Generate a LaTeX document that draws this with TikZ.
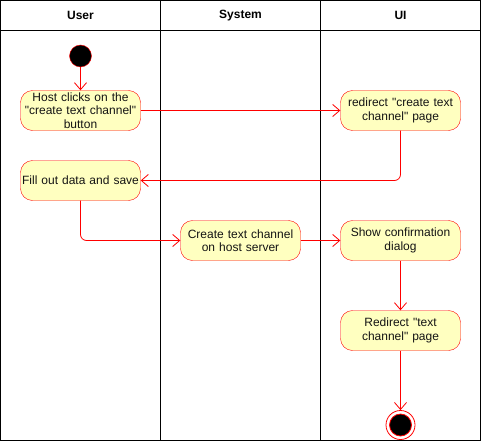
\documentclass[tikz,border=0pt]{standalone}
\usepackage{fontspec}
\setmainfont{Liberation Sans}[Ligatures=TeXOff]
\usetikzlibrary{arrows.meta}
\begin{document}
\begin{tikzpicture}[x=1pt,y=-1pt,
  lane/.style={draw=black,line width=1pt},
  act/.style={draw=red,fill={rgb,255:red,255;green,255;blue,192},rounded corners=12pt,
    minimum width=120pt,minimum height=40pt,inner sep=1pt,align=center,
    text width=118pt,font=\fontsize{12}{13.4}\selectfont,text={rgb,255:red,20;green,20;blue,20}},
  head/.style={font=\fontsize{12}{13.4}\selectfont\bfseries},
  flow/.style={draw=red,line width=0.8pt,rounded corners=6pt,
    -{Straight Barb[length=7pt,width=12pt,line width=0.8pt]}}]
\useasboundingbox (0,0) rectangle (481,441);
% swimlanes
\draw[lane] (0.5,0.5) rectangle (480.5,440.5);
\draw[lane] (0.5,31) -- (480.5,31);
\draw[lane] (160.5,0.5) -- (160.5,440.5);
\draw[lane] (320.5,0.5) -- (320.5,440.5);
\node[head] (hUser) at (80.5,15.5) {User};
\node[head] (hSys) at (240.5,15.5) {System};
\node[head] (hUI) at (400.5,15.5) {UI};
% start state
\node[circle,draw=red,fill=black,minimum size=22pt,inner sep=0pt] (start) at (80.5,56) {};
% activities
\node[act] (host) at (80.5,110.5) {Host clicks on the\\"create text channel"\\button};
\node[act] (fill) at (80.5,180.5) {Fill out data and save};
\node[act] (redir) at (400.5,110.5) {redirect "create text\\channel" page};
\node[act] (create) at (240.5,240.5) {Create text channel\\on host server};
\node[act] (show) at (400.5,240.5) {Show confirmation\\dialog};
\node[act] (redir2) at (400.5,330.5) {Redirect "text\\channel" page};
% end state
\node[circle,draw=red,fill=white,minimum size=29pt,inner sep=0pt,line width=0.8pt] (stop) at (400.5,425) {};
\node[circle,draw=red,fill=black,minimum size=22pt,inner sep=0pt,line width=0.8pt] (stopin) at (stop.center) {};
% transitions
\draw[flow] (start) -- (host);
\draw[flow] (host) -- (redir);
\draw[flow] (redir.south) |- (fill.east);
\draw[flow] (fill.south) |- (create.west);
\draw[flow] (create) -- (show);
\draw[flow] (show) -- (redir2);
\draw[flow] (redir2) -- (stop);
\end{tikzpicture}
\end{document}
